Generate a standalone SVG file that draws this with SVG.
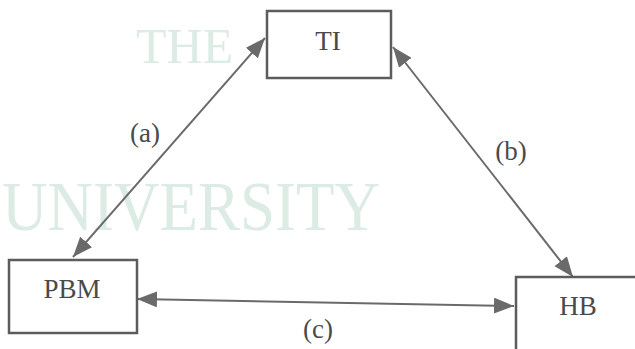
<svg xmlns="http://www.w3.org/2000/svg" width="635" height="349" viewBox="0 0 635 349">
<style>
.wm{fill:#dcebe3;font-family:"Liberation Serif",serif}
.box{fill:none;stroke:#5c5c5c;stroke-width:2.5}
.lbl{fill:#4a4a4a;font-family:"Liberation Serif","Times New Roman",serif;font-size:27px;text-anchor:middle}
.con{stroke:#6a6a6a;stroke-width:2;fill:none;marker-start:url(#ah);marker-end:url(#ah)}
</style>
<defs>
<marker id="ah" viewBox="0 0 10 10" refX="10" refY="5" markerWidth="20" markerHeight="16" markerUnits="userSpaceOnUse" orient="auto-start-reverse" preserveAspectRatio="none">
<path d="M0,0 L10,5 L0,10 z" fill="#6a6a6a"/>
</marker>
</defs>
<rect width="635" height="349" fill="#ffffff"/>
<g id="watermark">
<text class="wm" x="136" y="63" font-size="50">THE</text>
<text class="wm" x="2" y="230" font-size="70" textLength="378" lengthAdjust="spacingAndGlyphs">UNIVERSITY</text>
</g>
<g id="connectors">
<line class="con" x1="73" y1="257" x2="265" y2="38"/>
<line class="con" x1="393" y1="47" x2="573" y2="277"/>
<line class="con" x1="137" y1="299" x2="514" y2="306"/>
<text class="lbl" x="145" y="142">(a)</text>
<text class="lbl" x="511" y="160">(b)</text>
<text class="lbl" x="318" y="338">(c)</text>
</g>
<g id="TI">
<rect class="box" x="267" y="11" width="124" height="67"/>
<text class="lbl" x="328" y="50">TI</text>
</g>
<g id="PBM">
<rect class="box" x="9" y="260" width="128" height="73"/>
<text class="lbl" x="72" y="298">PBM</text>
</g>
<g id="HB">
<rect class="box" x="516" y="277" width="140" height="100"/>
<text class="lbl" x="578" y="315">HB</text>
</g>
</svg>
